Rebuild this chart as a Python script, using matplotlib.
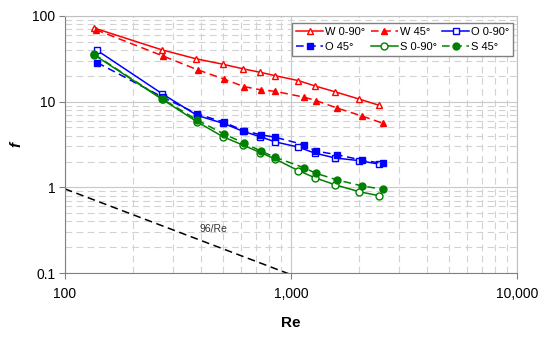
import numpy as np
import matplotlib
matplotlib.use('Agg')
import matplotlib.pyplot as plt
from matplotlib.ticker import FuncFormatter, LogLocator, NullFormatter

plt.rcParams['font.family'] = ['Liberation Sans', 'DejaVu Sans']

# data
re_w0 = [135, 270, 382, 500, 615, 731, 849, 1077, 1281, 1571, 2006, 2443]
f_w0 = [72, 40, 31.5, 27.3, 24.1, 22.0, 20.1, 17.6, 15.2, 13.0, 10.7, 9.1]
re_w45 = [137, 272, 388, 504, 618, 737, 849, 1138, 1290, 1603, 2061, 2546]
f_w45 = [69, 34, 23.4, 18.4, 15.0, 13.7, 13.2, 11.3, 10.3, 8.4, 6.8, 5.6]
re_o0 = [139, 270, 385, 500, 615, 731, 849, 1077, 1281, 1571, 2006, 2443]
f_o0 = [39.5, 12.3, 6.9, 5.6, 4.5, 3.9, 3.4, 2.95, 2.5, 2.2, 2.05, 1.87]
re_o45 = [139, 272, 385, 504, 618, 737, 849, 1138, 1290, 1603, 2061, 2546]
f_o45 = [28.5, 11.2, 7.2, 5.75, 4.6, 4.1, 3.85, 3.15, 2.65, 2.4, 2.08, 1.9]
re_s0 = [135, 270, 385, 500, 615, 731, 849, 1077, 1281, 1571, 2006, 2443]
f_s0 = [35, 10.6, 5.8, 3.9, 3.1, 2.55, 2.15, 1.57, 1.29, 1.07, 0.89, 0.80]
re_s45 = [135, 272, 385, 504, 618, 737, 849, 1138, 1290, 1603, 2061, 2546]
f_s45 = [35.6, 10.6, 6.1, 4.2, 3.3, 2.65, 2.25, 1.7, 1.46, 1.22, 1.04, 0.95]

# laminar reference line 96/Re
re_lam = [100, 1000]
f_lam = [96 / r for r in re_lam]

fig = plt.figure(figsize=(5.5, 3.38), dpi=100)
ax = fig.add_axes([0.118, 0.192, 0.822, 0.761])

ax.set_xscale('log')
ax.set_yscale('log')
ax.set_xlim(100, 10000)
ax.set_ylim(0.1, 100)

# grid like the spreadsheet original
ax.grid(True, which='major', color='#c8c8c8', linestyle='-', linewidth=0.8)
ax.grid(True, which='minor', color='#d2d2d2', linestyle=(0, (6, 4)), linewidth=0.8)
ax.set_axisbelow(True)

red, blue, green = '#ff0000', '#0000ff', '#008000'
lw, ms = 1.1, 5
dash = (0, (5, 3))

h_w0, = ax.plot(re_w0, f_w0, color=red, lw=lw, ls='-', marker='^', ms=ms, mfc='white', mec=red, label='W 0-90°')
h_w45, = ax.plot(re_w45, f_w45, color=red, lw=lw, ls=dash, marker='^', ms=ms, mfc=red, mec=red, label='W 45°')
h_o0, = ax.plot(re_o0, f_o0, color=blue, lw=lw, ls='-', marker='s', ms=ms, mfc='white', mec=blue, label='O 0-90°')
h_o45, = ax.plot(re_o45, f_o45, color=blue, lw=lw, ls=dash, marker='s', ms=ms, mfc=blue, mec=blue, label='O 45°')
h_s0, = ax.plot(re_s0, f_s0, color=green, lw=lw, ls='-', marker='o', ms=ms, mfc='white', mec=green, label='S 0-90°')
h_s45, = ax.plot(re_s45, f_s45, color=green, lw=lw, ls=dash, marker='o', ms=ms, mfc=green, mec=green, label='S 45°')

ax.plot(re_lam, f_lam, color='black', lw=1.1, ls=dash)
ax.text(452, 0.33, '96/Re', fontsize=7.5, color='#333333', ha='center', va='center')

# ticks
ax.xaxis.set_major_locator(LogLocator(base=10, numticks=10))
ax.yaxis.set_major_locator(LogLocator(base=10, numticks=10))
ax.xaxis.set_minor_locator(LogLocator(base=10, subs=np.arange(2, 10), numticks=20))
ax.yaxis.set_minor_locator(LogLocator(base=10, subs=np.arange(2, 10), numticks=20))
ax.xaxis.set_major_formatter(FuncFormatter(lambda v, p: f'{v:,.0f}'))
ax.yaxis.set_major_formatter(FuncFormatter(lambda v, p: f'{v:g}'))
ax.xaxis.set_minor_formatter(NullFormatter())
ax.yaxis.set_minor_formatter(NullFormatter())
ax.tick_params(which='major', length=4, color='#808080', labelsize=10)
ax.tick_params(axis='x', which='major', pad=6)
ax.tick_params(axis='y', which='major', pad=3)
ax.tick_params(which='minor', length=0)

for s in ['left', 'bottom']:
    ax.spines[s].set_color('#808080')
for s in ['top', 'right']:
    ax.spines[s].set_color('#c0c0c0')

ax.set_xlabel('Re', fontsize=11, fontweight='bold', labelpad=11)
ax.set_ylabel('f', fontsize=11, fontweight='bold', fontstyle='italic', labelpad=6)

# row-wise legend order: W0, W45, O0 / O45, S0, S45
handles = [h_w0, h_o45, h_w45, h_s0, h_o0, h_s45]
leg = ax.legend(handles=handles, labels=[h.get_label() for h in handles],
                loc='upper right', bbox_to_anchor=(0.997, 0.982), ncol=3, fontsize=8,
                frameon=True, fancybox=False, edgecolor='#808080', framealpha=1,
                handlelength=2.4, columnspacing=0.5, handletextpad=0.2,
                borderpad=0.35, labelspacing=0.45, borderaxespad=0.2)
leg.get_frame().set_linewidth(1.0)

plt.savefig('out.png', dpi=100)
